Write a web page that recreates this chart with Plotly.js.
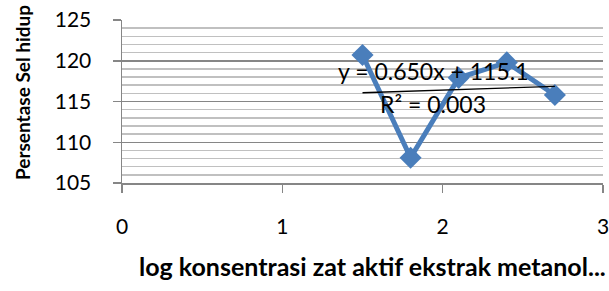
<!DOCTYPE html>
<html><head><meta charset="utf-8">
<script src="https://cdn.plot.ly/plotly-3.0.1.min.js"></script>
<style>html,body{margin:0;padding:0;background:#fff}#c{width:609px;height:291px}</style>
</head><body><div id="c"></div>
<script>
const logKonsentrasi = [1.5, 1.8, 2.1, 2.4, 2.7];
const persenHidup = [120.7, 108.1, 117.9, 119.8, 115.8];
const trendSlope = 0.650;
const trendIntercept = 115.1;
const eqText = "y = 0.650x + 115.1";
const r2Text = "R² = 0.003";
const xTitle = "log konsentrasi zat aktif ekstrak metanol...";
const yTitle = "Persentase Sel hidup";
const xTicks = [0, 1, 2, 3];
const yTicks = [105, 110, 115, 120, 125];

const xMin = Math.min(...logKonsentrasi), xMax = Math.max(...logKonsentrasi);
const trendX = [xMin, xMax];
const trendY = trendX.map(v => trendSlope * v + trendIntercept);

const font = "Lato, Open Sans, sans-serif";
const data = [
  {x: logKonsentrasi, y: persenHidup, type: 'scatter', mode: 'lines+markers',
   line: {color: '#4a7ebb', width: 5},
   marker: {symbol: 'diamond', size: 17, color: '#4a7ebb'}, showlegend: false, cliponaxis: false},
  {x: trendX, y: trendY, type: 'scatter', mode: 'lines',
   line: {color: '#000', width: 1.3}, showlegend: false}
];
const layout = {
  width: 609, height: 291,
  margin: {l: 122, r: 6, t: 20, b: 108},
  paper_bgcolor: '#fff', plot_bgcolor: '#fff',
  font: {family: font, size: 21, color: '#000'},
  xaxis: {range: [0, 3], tickvals: xTicks, ticktext: xTicks.map(String),
    showgrid: false, zeroline: false, showline: true, linecolor: '#868686', linewidth: 1.5,
    ticks: 'outside', ticklen: 8, tickcolor: '#868686', tickwidth: 1.5,
    tickfont: {size: 21}, ticklabelstandoff: 16, ticklabeloverflow: 'allow'},
  yaxis: {range: [105, 125], tickvals: yTicks, ticktext: yTicks.map(String),
    showgrid: true, gridcolor: '#868686', gridwidth: 1.5,
    minor: {dtick: 1, showgrid: true, gridcolor: '#c0c0c0', gridwidth: 1.5},
    zeroline: false, showline: true, linecolor: '#868686', linewidth: 1.5,
    ticks: 'outside', ticklen: 8, tickcolor: '#868686', tickwidth: 1.5,
    tickfont: {size: 21}, ticklabelstandoff: 17},
  annotations: [
    {x: 1.94, y: 118.7, xref: 'x', yref: 'y', text: eqText, showarrow: false, font: {size: 23, family: font}},
    {x: 1.94, y: 114.7, xref: 'x', yref: 'y', text: r2Text, showarrow: false, font: {size: 23, family: font}},
    {x: 372, y: 266, xref: 'paper', yref: 'paper', text: '<b>' + xTitle + '</b>', showarrow: false,
     xanchor: 'center', yanchor: 'middle', font: {size: 25, family: font}},
    {x: 22, y: 93, xref: 'paper', yref: 'paper', text: '<b>' + yTitle + '</b>', showarrow: false, textangle: -90,
     xanchor: 'center', yanchor: 'middle', font: {size: 19, family: font}}
  ]
};
// convert pixel-placed title annotations to paper coordinates
const pw = layout.width - layout.margin.l - layout.margin.r;
const ph = layout.height - layout.margin.t - layout.margin.b;
layout.annotations.slice(2).forEach(a => {
  a.x = (a.x - layout.margin.l) / pw;
  a.y = (layout.height - layout.margin.b - a.y) / ph;
});
Plotly.newPlot('c', data, layout, {displayModeBar: false, staticPlot: true});
</script></body></html>
